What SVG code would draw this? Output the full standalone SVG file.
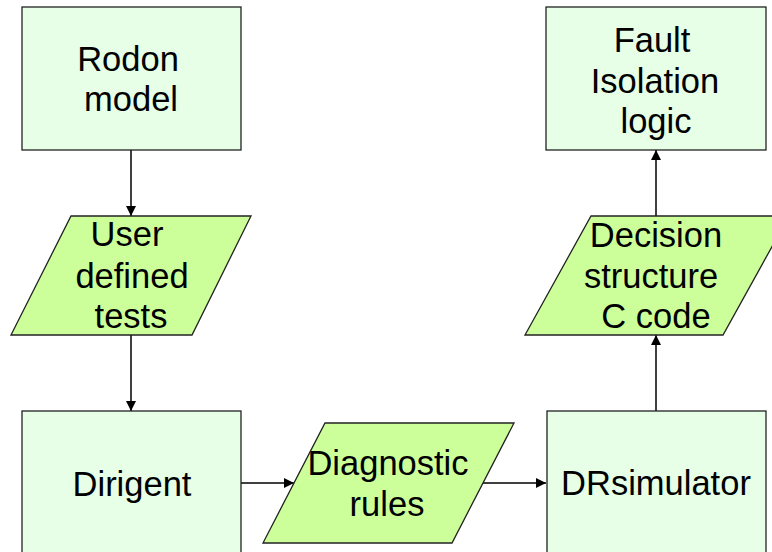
<svg xmlns="http://www.w3.org/2000/svg" width="772" height="552" viewBox="0 0 772 552">
<defs>
<style>
.box{fill:#E6FFE6;stroke:#222;stroke-width:1.3}
.io{fill:#CCFF99;stroke:#222;stroke-width:1.3}
.t{font-family:"Liberation Sans",Arial,sans-serif;font-size:34.5px;fill:#000;text-anchor:middle}
.c{stroke:#000;stroke-width:1.5;fill:none;marker-end:url(#ah)}
</style>
<marker id="ah" viewBox="0 0 10 10" refX="10" refY="5" markerUnits="userSpaceOnUse" markerWidth="11" markerHeight="10" orient="auto">
<path d="M0,0 L10,5 L0,10 Z" fill="#000"/>
</marker>
</defs>
<rect width="772" height="552" fill="#fff"/>
<g id="connectors">
<line class="c" x1="131" y1="150" x2="131" y2="216"/>
<line class="c" x1="131" y1="335" x2="131" y2="411"/>
<line class="c" x1="241" y1="483" x2="294" y2="483"/>
<line class="c" x1="482" y1="483" x2="546" y2="483"/>
<line class="c" x1="656" y1="411" x2="656" y2="335"/>
<line class="c" x1="656" y1="216" x2="656" y2="150"/>
</g>
<g id="rodon">
<rect class="box" x="22" y="7" width="219" height="143"/>
<text class="t" x="128" y="71">Rodon</text>
<text class="t" x="131" y="111">model</text>
</g>
<g id="user-tests">
<polygon class="io" points="71,216 251,216 192,335 11,335"/>
<text class="t" x="127" y="246">User</text>
<text class="t" x="132" y="288">defined</text>
<text class="t" x="131" y="328">tests</text>
</g>
<g id="dirigent">
<rect class="box" x="22" y="411" width="219" height="160"/>
<text class="t" x="132" y="496">Dirigent</text>
</g>
<g id="diagnostic-rules">
<polygon class="io" points="325,423 514,423 452,543 263,543"/>
<text class="t" x="388" y="475">Diagnostic</text>
<text class="t" x="387" y="516">rules</text>
</g>
<g id="drsimulator">
<rect class="box" x="547" y="411" width="219" height="160"/>
<text class="t" x="656" y="495">DRsimulator</text>
</g>
<g id="decision">
<polygon class="io" points="591,216 789,216 723,335 525,335"/>
<text class="t" x="656" y="247">Decision</text>
<text class="t" x="651" y="288">structure</text>
<text class="t" x="656" y="328">C code</text>
</g>
<g id="fault">
<rect class="box" x="546" y="7" width="220" height="143"/>
<text class="t" x="652" y="52">Fault</text>
<text class="t" x="655" y="93">Isolation</text>
<text class="t" x="656" y="133">logic</text>
</g>
</svg>
